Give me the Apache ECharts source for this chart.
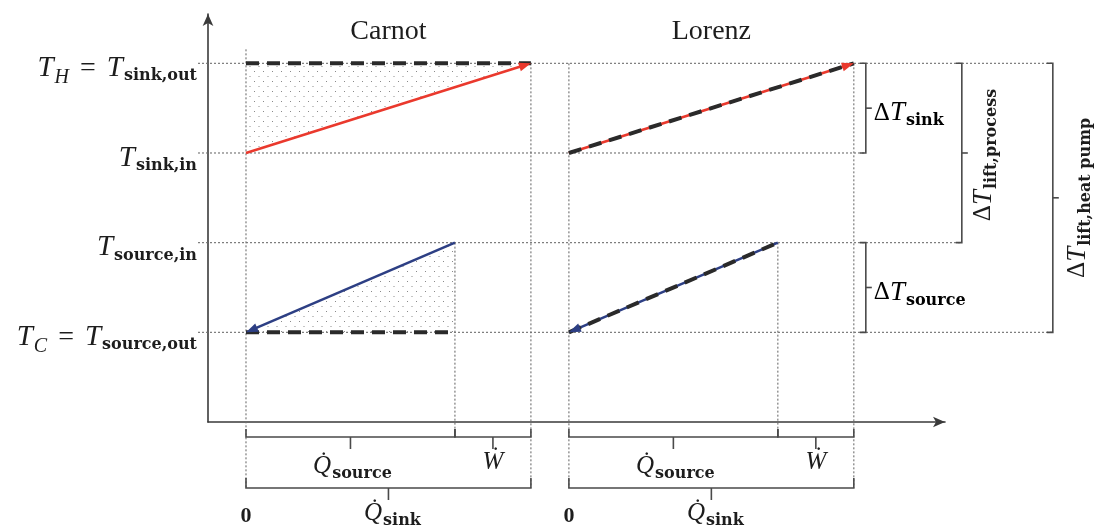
<!DOCTYPE html>
<html><head><meta charset="utf-8">
<script src="https://cdn.jsdelivr.net/npm/echarts@6/dist/echarts.min.js"></script>
<style>html,body{margin:0;padding:0;background:#fff}#c{width:1102px;height:530px}</style>
</head><body><div id="c"></div>
<script>
// ---------------- data ----------------
const panelNames = ['Carnot', 'Lorenz'];
const qSource = [2.75, 2.75];          // heat taken from the source (x extent)
const workIn = [1.0, 1.0];             // compressor work
const qSink = qSource.map((q, i) => q + workIn[i]);
// temperature levels: T_C, T_source,in, T_sink,in, T_H
const tLevels = [1, 2, 3, 4];
const tLevelLabels = [
  '{TY|T}{si|C}{eq|=}{TY|T}{sb|source,out}',
  '{TY|T}{sb|source,in}',
  '{TY|T}{sb|sink,in}',
  '{TY|T}{si|H}{eq|=}{TY|T}{sb|sink,out}'
];
// refrigerant temperature at start of heat rejection / end of heat uptake
const refrSinkStartT = [4, 3];
const refrSourceEndT = [1, 2];
const xZeroLabel = '0';
const braceLabels = {
  qSource: '{Q|Q\u0307}{sb|source}',
  work: '{Q|\u1E86}',
  qSink: '{Q|Q\u0307}{sb|sink}',
  dSink: '{d|\u0394}{T|T}{sb|sink}',
  dSource: '{d|\u0394}{T|T}{sb|source}',
  dProcess: '{d|\u0394}{T|T}{sb|lift,process}',
  dHeatPump: '{d|\u0394}{T|T}{sb|lift,heat pump}'
};

// ---------------- layout / style ----------------
const panelStart = [0.5, 4.75];
const topOvershoot = [14, 0];
const TXT = '#1d1d1d', GUIDE = '#6f6f6f', BRACE = '#4a4a4a';
const RED = '#ea392d', BLUE = '#2d3f84', DASH = '#2a2a2a';
const SERIF = 'Liberation Serif', SUBF = 'DejaVu Serif';
const rich = {
  T: {fontFamily: SERIF, fontStyle: 'italic', fontSize: 27, color: TXT},
  TY: {fontFamily: SERIF, fontStyle: 'italic', fontSize: 29, color: TXT},
  Q: {fontFamily: SERIF, fontStyle: 'italic', fontSize: 25, color: TXT},
  d: {fontFamily: SERIF, fontSize: 25, color: TXT},
  eq: {fontFamily: SERIF, fontSize: 28, color: TXT, padding: [0, 11, 0, 11]},
  si: {fontFamily: SERIF, fontStyle: 'italic', fontSize: 20, color: TXT, padding: [18, 0, 0, 1]},
  sb: {fontFamily: SUBF, fontWeight: 'bold', fontSize: 16, color: TXT, padding: [16, 0, 0, 1]}
};

const pat = document.createElement('canvas');
pat.width = 9; pat.height = 10;
const pg = pat.getContext('2d');
pg.fillStyle = '#8a8a8a';
[[2, 1], [6.5, 6]].forEach(([x, y]) => pg.fillRect(x, y, 1, 1));
const stipple = {image: pat, repeat: 'repeat'};

function seg(a, b, style) {
  return {type: 'line', shape: {x1: a[0], y1: a[1], x2: b[0], y2: b[1]}, style: style};
}
function guide(a, b) {
  return seg(a, b, {stroke: GUIDE, lineWidth: 1.1, lineDash: [2, 2]});
}
function arrow(a, b, color) {
  const dx = b[0] - a[0], dy = b[1] - a[1], L = Math.hypot(dx, dy);
  const ux = dx / L, uy = dy / L, hl = 12, hw = 4.5;
  const base = [b[0] - ux * hl, b[1] - uy * hl];
  return [
    seg(a, [base[0] + ux * 2, base[1] + uy * 2], {stroke: color, lineWidth: 2.6}),
    {type: 'polygon', shape: {points: [b, [base[0] - uy * hw, base[1] + ux * hw], [base[0] + uy * hw, base[1] - ux * hw]]}, style: {fill: color}}
  ];
}
function dashed(a, b) {
  return seg(a, b, {stroke: DASH, lineWidth: 4, lineDash: [13, 8]});
}
function hBrace(x1, x2, y, hook, tick) {
  const xm = (x1 + x2) / 2;
  return [
    {type: 'polyline', shape: {points: [[x1, y - hook], [x1, y], [x2, y], [x2, y - hook]]}, style: {stroke: BRACE, lineWidth: 1.6, fill: null}},
    seg([xm, y], [xm, y + tick], {stroke: BRACE, lineWidth: 1.6})
  ];
}
function vBrace(x, y1, y2, hook, tick) {
  const ym = (y1 + y2) / 2;
  return [
    {type: 'polyline', shape: {points: [[x - hook, y1], [x, y1], [x, y2], [x - hook, y2]]}, style: {stroke: BRACE, lineWidth: 1.6, fill: null}},
    seg([x, ym], [x + tick, ym], {stroke: BRACE, lineWidth: 1.6})
  ];
}
function label(x, y, text, extra) {
  return Object.assign({type: 'text', x: x, y: y, style: {text: text, rich: rich, align: 'center', verticalAlign: 'middle', fill: TXT}}, extra || {});
}

function panelRender(params, api) {
  const i = params.dataIndex;
  const p = (x, y) => api.coord([x, y]);
  const [TC, TSI, TKI, TH] = tLevels;
  const x0 = panelStart[i], xs = x0 + qSource[i], xk = x0 + qSink[i];
  const axisY = p(0, 0)[1];
  const braceY1 = axisY + 15, braceY2 = axisY + 66;
  const c = [];
  // stipple areas between refrigerant and fluid profiles
  c.push({type: 'polygon', shape: {points: [p(x0, TKI), p(x0, refrSinkStartT[i]), p(xk, TH)]}, style: {fill: stipple}});
  c.push({type: 'polygon', shape: {points: [p(x0, TC), p(xs, refrSourceEndT[i]), p(xs, TSI)]}, style: {fill: stipple}});
  // vertical guides
  const gx0 = p(x0, TH);
  c.push(guide([gx0[0], gx0[1] - topOvershoot[i]], [gx0[0], braceY2]));
  c.push(guide(p(xs, TSI), [p(xs, TSI)[0], braceY1]));
  c.push(guide(p(xk, TH), [p(xk, TH)[0], braceY2]));
  // sink and source glides
  const redA = arrow(p(x0, TKI), p(xk, TH), RED);
  const blueA = arrow(p(xs, TSI), p(x0, TC), BLUE);
  c.push(redA[0], blueA[0]);
  // refrigerant (dashed)
  c.push(dashed(p(x0, refrSinkStartT[i]), p(xk, TH)));
  c.push(dashed(p(x0, TC), p(xs, refrSourceEndT[i])));
  c.push(redA[1], blueA[1]);
  // braces
  const X0 = p(x0, 0)[0], XS = p(xs, 0)[0], XK = p(xk, 0)[0];
  c.push(...hBrace(X0, XS, braceY1, 8, 12));
  c.push(...hBrace(XS, XK, braceY1, 8, 12));
  c.push(...hBrace(X0, XK, braceY2, 10, 12));
  c.push(label((X0 + XS) / 2 + 2, braceY1 + 29, braceLabels.qSource));
  c.push(label((XS + XK) / 2, braceY1 + 25, braceLabels.work));
  c.push(label((X0 + XK) / 2 + 4, braceY2 + 25, braceLabels.qSink));
  c.push(label(X0, braceY2 + 28, xZeroLabel, {style: {text: xZeroLabel, fontFamily: SERIF, fontSize: 22, fontWeight: 'bold', fill: TXT, align: 'center', verticalAlign: 'middle'}}));
  // title
  c.push(label((X0 + XK) / 2, p(x0, TH)[1] - 32, panelNames[i], {style: {text: panelNames[i], fontFamily: SERIF, fontSize: 28, fill: TXT, align: 'center', verticalAlign: 'middle'}}));
  return {type: 'group', children: c};
}

function globalRender(params, api) {
  const p = (x, y) => api.coord([x, y]);
  const [TC, TSI, TKI, TH] = tLevels;
  const last = panelStart.length - 1;
  const endX = p(panelStart[last] + qSink[last], 0)[0];
  const leftX = p(0, 0)[0] - 10;
  const bSink = endX + 12, bProc = endX + 108, bHP = endX + 199;
  const yH = p(0, TH)[1], yKI = p(0, TKI)[1], ySI = p(0, TSI)[1], yC = p(0, TC)[1];
  const c = [];
  c.push(guide([leftX, yH], [bHP, yH]));
  c.push(guide([leftX, yKI], [bSink, yKI]));
  c.push(guide([leftX, ySI], [bProc, ySI]));
  c.push(guide([leftX, yC], [bHP, yC]));
  c.push(...vBrace(bSink, yH, yKI, 6, 6));
  c.push(...vBrace(bSink, ySI, yC, 6, 6));
  c.push(...vBrace(bProc, yH, ySI, 6, 6));
  c.push(...vBrace(bHP, yH, yC, 6, 6));
  c.push(label(bSink + 8, (yH + yKI) / 2 + 5, braceLabels.dSink, {style: {text: braceLabels.dSink, rich: rich, align: 'left', verticalAlign: 'middle'}}));
  c.push(label(bSink + 8, (ySI + yC) / 2 + 5, braceLabels.dSource, {style: {text: braceLabels.dSource, rich: rich, align: 'left', verticalAlign: 'middle'}}));
  c.push(label(bProc + 22, (yH + ySI) / 2 + 2, braceLabels.dProcess, {rotation: Math.PI / 2}));
  c.push(label(bHP + 25, (yH + yC) / 2, braceLabels.dHeatPump, {rotation: Math.PI / 2}));
  return {type: 'group', children: c};
}

const chart = echarts.init(document.getElementById('c'), null, {renderer: 'canvas'});
chart.setOption({
  animation: false,
  backgroundColor: '#ffffff',
  grid: {left: 208, top: 14, width: 737, height: 408, containLabel: false},
  xAxis: {
    type: 'value', min: 0, max: 9.7,
    axisLine: {show: true, symbol: ['none', 'arrow'], symbolSize: [8, 12], lineStyle: {color: '#3a3a3a', width: 1.6}},
    axisTick: {show: false}, axisLabel: {show: false}, splitLine: {show: false}
  },
  yAxis: {
    type: 'value', min: 0, max: 4.55, interval: 1,
    axisLine: {show: true, symbol: ['none', 'arrow'], symbolSize: [8, 12], lineStyle: {color: '#3a3a3a', width: 1.6}},
    axisTick: {show: false}, splitLine: {show: false},
    axisLabel: {
      show: true, margin: 11, rich: rich, padding: [10, 0, 0, 0],
      formatter: v => { const k = tLevels.indexOf(v); return k >= 0 ? tLevelLabels[k] : ''; }
    }
  },
  series: [
    {type: 'custom', coordinateSystem: 'cartesian2d', clip: false, silent: true, data: [[0, 0]], renderItem: globalRender},
    {type: 'custom', coordinateSystem: 'cartesian2d', clip: false, silent: true, data: panelStart.map(x => [x, 0]), renderItem: panelRender}
  ]
});
</script>
</body></html>
